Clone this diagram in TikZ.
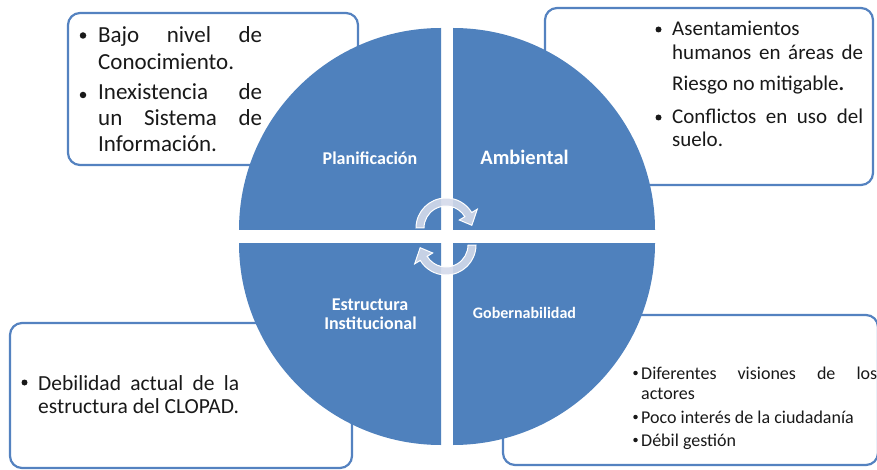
\documentclass[tikz,border=0pt]{standalone}
\usepackage{fontspec}
\setmainfont{Carlito}
\usetikzlibrary{calc}
\definecolor{qblue}{RGB}{79,129,189}
\definecolor{bxblue}{RGB}{84,130,192}
\definecolor{arrfill}{RGB}{212,218,234}
\definecolor{txt}{RGB}{25,25,25}
\newcommand{\fbA}{\fontsize{23}{27}\selectfont}
\newcommand{\fbB}{\fontsize{21}{25}\selectfont}
\newcommand{\fbC}{\fontsize{21.5}{25}\selectfont}
\newcommand{\fbD}{\fontsize{18}{20}\selectfont}
\begin{document}
\begin{tikzpicture}[x=1pt,y=-1pt,
  box/.style={draw=bxblue, line width=2.2pt, rounded corners=12pt, fill=white},
  quad/.style={fill=qblue},
  ln/.style={anchor=base west, inner sep=0pt, text=txt},
  bul/.style={circle, fill=txt, inner sep=0pt, minimum size=#1},
  qlabel/.style={anchor=base, inner sep=0pt, text=white},
  circarrow/.style={fill=arrfill, fill opacity=0.9, draw=white, line width=1pt}
]
\fill[white] (0,0) rectangle (877,470);
\useasboundingbox (0,0) rectangle (877,470);

% boxes
\draw[box] (68,13) rectangle (358,165);
\draw[box] (545,8) rectangle (873,185);
\draw[box] (10,323) rectangle (352,468);
\draw[box] (503,315) rectangle (878,465);

% quadrants
\fill[quad] (441,230) -- (239,230) arc[start angle=180,end angle=270,radius=202] -- cycle;
\fill[quad] (453,230) -- (453,28) arc[start angle=270,end angle=360,radius=202] -- cycle;
\fill[quad] (441,243) -- (441,445) arc[start angle=90,end angle=180,radius=202] -- cycle;
\fill[quad] (453,243) -- (655,243) arc[start angle=0,end angle=90,radius=202] -- cycle;

% circular arrows
\coordinate (ct) at (446,228);
\coordinate (cb) at (446,245);
\path[circarrow] ($(ct)+(180:30)$) arc[start angle=180,end angle=329,radius=30]
  -- ($(ct)+(329:36.5)$) -- ($(ct)+(354:26)$) -- ($(ct)+(329:15.5)$)
  -- ($(ct)+(329:22)$) arc[start angle=329,end angle=180,radius=22] -- cycle;
\path[circarrow] ($(cb)+(0:30)$) arc[start angle=0,end angle=149,radius=30]
  -- ($(cb)+(149:36.5)$) -- ($(cb)+(174:26)$) -- ($(cb)+(149:15.5)$)
  -- ($(cb)+(149:22)$) arc[start angle=149,end angle=0,radius=22] -- cycle;

% quadrant labels
\node[qlabel, font=\fontsize{18}{19.5}\selectfont\bfseries] (plan) at (370,165) {Planificación};
\node[qlabel, font=\fontsize{20.5}{22}\selectfont\bfseries] (amb) at (524.5,165) {Ambiental};
\node[qlabel, font=\fontsize{18}{19.5}\selectfont\bfseries] (est1) at (370,310) {Estructura};
\node[qlabel, font=\fontsize{18}{19.5}\selectfont\bfseries] (est2) at (370.5,329.3) {Institucional};
\node[qlabel, font=\fontsize{16}{18}\selectfont\bfseries] (gob) at (524.5,318.3) {Gobernabilidad};

% box 1
\node[bul=6.5pt] (b1a) at (83,35.5) {};
\node[bul=6.5pt] (b1b) at (83,95) {};
\node[ln, font=\fbA] (t11) at (98,43) {\makebox[164pt][s]{Bajo nivel de}};
\node[ln, font=\fbA] (t12) at (98,70) {Conocimiento.};
\node[ln, font=\fbA] (t13) at (98,100) {\makebox[164pt][s]{Inexistencia de}};
\node[ln, font=\fbA] (t14) at (98,126) {\makebox[164pt][s]{un Sistema de}};
\node[ln, font=\fbA] (t15) at (98,152) {Información.};

% box 2
\node[bul=6pt] (b2a) at (658.5,29.5) {};
\node[bul=6pt] (b2b) at (658.5,117.5) {};
\node[ln, font=\fbB] (t21) at (672,36) {Asentamientos};
\node[ln, font=\fbB] (t22) at (672,60) {\makebox[191pt][s]{humanos en áreas de}};
\node[ln, font=\fbB] (t23) at (672,91) {Riesgo no mitigable\textbf{.}};
\node[ln, font=\fbB] (t24) at (672,124) {\makebox[191pt][s]{Conflictos en uso del}};
\node[ln, font=\fbB] (t25) at (672,147) {suelo.};

% box 3
\node[bul=6pt] (b3a) at (24.5,382.5) {};
\node[ln, font=\fbC] (t31) at (38,390) {\makebox[201pt][s]{Debilidad actual de la}};
\node[ln, font=\fbC] (t32) at (38,413) {estructura del CLOPAD.};

% box 4
\node[bul=4.5pt] (b4a) at (635.5,373) {};
\node[bul=4.5pt] (b4b) at (635.5,417) {};
\node[bul=4.5pt] (b4c) at (635.5,440) {};
\node[ln, font=\fbD] (t41) at (641,379) {\makebox[236pt][s]{Diferentes visiones de los}};
\node[ln, font=\fbD] (t42) at (641,399) {actores};
\node[ln, font=\fbD] (t43) at (641,423) {Poco interés de la ciudadanía};
\node[ln, font=\fbD] (t44) at (641,446) {Débil gestión};
\end{tikzpicture}
\end{document}
